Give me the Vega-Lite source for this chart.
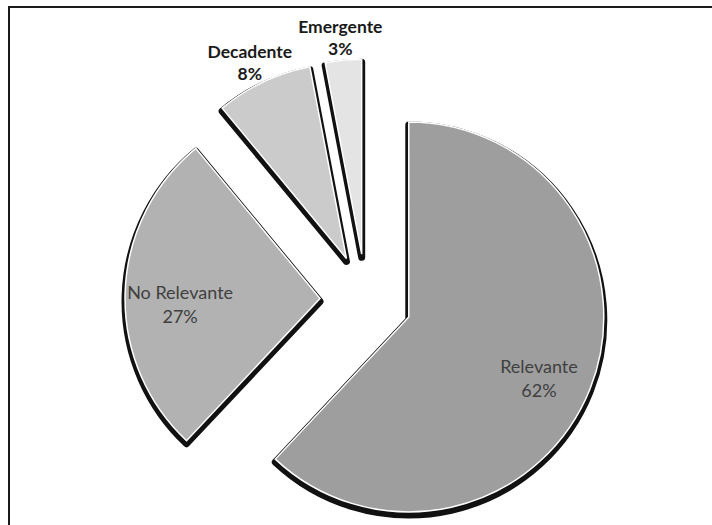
{
  "$schema": "https://vega.github.io/schema/vega-lite/v6.json",
  "width": 712,
  "height": 525,
  "autosize": {"type": "none"},
  "padding": {"left": 9, "top": 7, "right": 0, "bottom": 0},
  "background": "white",
  "view": {"stroke": "#1a1a1a", "strokeWidth": 2},
  "data": {
    "values": [
      {"segmento": "Relevante", "pct": 62},
      {"segmento": "No Relevante", "pct": 27},
      {"segmento": "Decadente", "pct": 8},
      {"segmento": "Emergente", "pct": 3}
    ]
  },
  "transform": [
    {"window": [{"op": "sum", "field": "pct", "as": "fin"}], "frame": [null, 0]},
    {"calculate": "datum.fin - datum.pct", "as": "inicio"},
    {"calculate": "(datum.inicio + datum.fin) / 2", "as": "medio"},
    {"calculate": "sin(2 * PI * datum.medio / 100)", "as": "dx"},
    {"calculate": "cos(2 * PI * datum.medio / 100)", "as": "dy"},
    {"calculate": "datum.segmento + '\\n' + datum.pct + '%'", "as": "etiqueta"}
  ],
  "encoding": {
    "x": {"field": "dx", "type": "quantitative", "scale": {"domain": [-7.761, 7.717], "nice": false, "zero": false}, "axis": null},
    "y": {"field": "dy", "type": "quantitative", "scale": {"domain": [-5.043, 6.37], "nice": false, "zero": false}, "axis": null}
  },
  "layer": [
    {
      "mark": {"type": "arc", "radius": 195, "color": "#111111", "stroke": "#111111", "strokeWidth": 7, "strokeJoin": "round", "yOffset": 3},
      "encoding": {
        "theta": {"field": "inicio", "type": "quantitative", "scale": {"domain": [0, 100]}, "stack": null},
        "theta2": {"field": "fin"}
      }
    },
    {
      "mark": {"type": "arc", "radius": 195, "stroke": "white", "strokeWidth": 1.5},
      "encoding": {
        "theta": {"field": "inicio", "type": "quantitative", "scale": {"domain": [0, 100]}, "stack": null},
        "theta2": {"field": "fin"},
        "color": {
          "field": "segmento",
          "type": "nominal",
          "scale": {
            "domain": ["Relevante", "No Relevante", "Decadente", "Emergente"],
            "range": ["#9e9e9e", "#b2b2b2", "#cbcbcb", "#e4e4e4"]
          },
          "legend": null
        }
      }
    },
    {
      "transform": [{"filter": "datum.pct >= 20"}],
      "mark": {"type": "text", "radius": 140, "font": "Lato", "fontSize": 18, "color": "#404040", "lineBreak": "\n", "lineHeight": 24},
      "encoding": {
        "theta": {"field": "medio", "type": "quantitative", "scale": {"domain": [0, 100]}, "stack": null},
        "text": {"field": "etiqueta"}
      }
    },
    {
      "transform": [{"filter": "datum.pct < 20"}],
      "mark": {"type": "text", "radius": 227, "font": "Lato", "fontSize": 17.5, "fontWeight": "bold", "color": "#1a1a1a", "lineBreak": "\n", "lineHeight": 22},
      "encoding": {
        "theta": {"field": "medio", "type": "quantitative", "scale": {"domain": [0, 100]}, "stack": null},
        "text": {"field": "etiqueta"}
      }
    }
  ]
}
